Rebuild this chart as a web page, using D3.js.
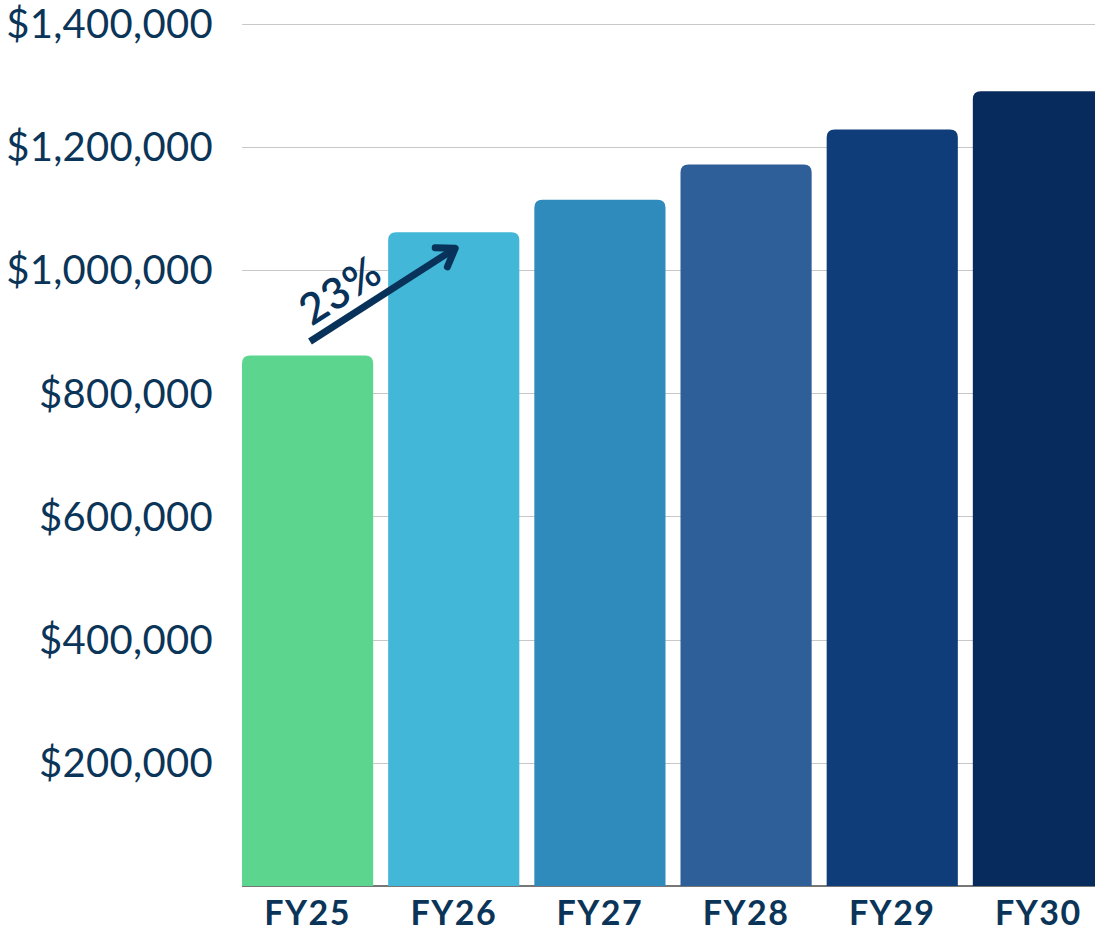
<!DOCTYPE html>
<html>
<head>
<meta charset="utf-8">
<script src="https://cdn.jsdelivr.net/npm/d3@7"></script>
<style>
  body { margin: 0; background: #fff; }
  text { font-family: Lato, "Open Sans", sans-serif; }
</style>
</head>
<body>
<div id="chart"></div>
<script>
// data
const years = ["FY25", "FY26", "FY27", "FY28", "FY29", "FY30"];
const budget = [861000, 1061000, 1114000, 1171000, 1228000, 1290000];
const barColors = ["#5cd68f", "#42b7d7", "#2e8bbb", "#2f5f98", "#0e3d79", "#082b5e"];
const yTicks = [200000, 400000, 600000, 800000, 1000000, 1200000, 1400000];
const growthLabel = "23%";

const W = 1095, H = 932;
const navy = "#0b3558";

let svg = d3.select("#chart").append("svg")
    .attr("width", W)
    .attr("height", H);

let y = d3.scaleLinear()
    .domain([0, 1400000])
    .range([886, 23.5]);

let x = d3.scaleBand()
    .domain(years)
    .range([242, 1104])
    .paddingInner(0.1026)
    .paddingOuter(0);

// gridlines
svg.append("g")
    .selectAll("line")
    .data(yTicks)
    .enter()
    .append("line")
    .attr("x1", 242)
    .attr("x2", W)
    .attr("y1", d => Math.round(y(d)) + 0.5)
    .attr("y2", d => Math.round(y(d)) + 0.5)
    .attr("stroke", "#c8c8c8")
    .attr("stroke-width", 1.2);

// y labels
svg.append("g")
    .selectAll("text")
    .data(yTicks)
    .enter()
    .append("text")
    .attr("x", 213)
    .attr("y", d => y(d))
    .attr("dy", "0.36em")
    .attr("text-anchor", "end")
    .attr("fill", navy)
    .style("font-size", "40px")
    .style("letter-spacing", "0.3px")
    .text(d => "$" + d3.format(",")(d));

// baseline
svg.append("line")
    .attr("x1", 242).attr("x2", W)
    .attr("y1", y(0)).attr("y2", y(0))
    .attr("stroke", "#777")
    .attr("stroke-width", 2);

// bars, rounded top corners only
const r = 8;
function barPath(d, i) {
    let x0 = x(years[i]), w = x.bandwidth();
    let y0 = y(d), y1 = y(0);
    return `M${x0},${y1} V${y0 + r} Q${x0},${y0} ${x0 + r},${y0} H${x0 + w - r} Q${x0 + w},${y0} ${x0 + w},${y0 + r} V${y1} Z`;
}

svg.append("g")
    .selectAll("path")
    .data(budget)
    .enter()
    .append("path")
    .attr("d", barPath)
    .attr("fill", (d, i) => barColors[i]);

// x labels
svg.append("g")
    .selectAll("text")
    .data(years)
    .enter()
    .append("text")
    .attr("x", d => x(d) + x.bandwidth() / 2)
    .attr("y", 925)
    .attr("text-anchor", "middle")
    .attr("fill", navy)
    .style("font-size", "34px")
    .style("font-weight", "700")
    .style("letter-spacing", "1.5px")
    .text(d => d);

// growth arrow FY25 -> FY26
let ax0 = x("FY25") + 68, ay0 = y(budget[0]) - 14;
let ax1 = x("FY26") + 67, ay1 = y(budget[1]) + 16;
let ang = Math.atan2(ay1 - ay0, ax1 - ax0);
let head = 20, spread = 0.6;

let arrow = svg.append("g")
    .attr("stroke", "#08325a")
    .attr("stroke-width", 7)
    .attr("stroke-linecap", "round")
    .attr("fill", "none");

arrow.append("line")
    .attr("x1", ax0).attr("y1", ay0)
    .attr("x2", ax1).attr("y2", ay1)
    .attr("stroke-linecap", "butt");

arrow.append("path")
    .attr("stroke-linejoin", "round")
    .attr("d", `M${ax1 - head * Math.cos(ang - spread)},${ay1 - head * Math.sin(ang - spread)} L${ax1},${ay1} L${ax1 - head * Math.cos(ang + spread)},${ay1 - head * Math.sin(ang + spread)}`);

svg.append("text")
    .attr("transform", `translate(340,290) rotate(${ang * 180 / Math.PI})`)
    .attr("text-anchor", "middle")
    .attr("dy", "0.36em")
    .attr("fill", "#08325a")
    .style("font-size", "43px")
    .style("font-weight", "600")
    .style("letter-spacing", "1px")
    .text(growthLabel);
</script>
</body>
</html>
